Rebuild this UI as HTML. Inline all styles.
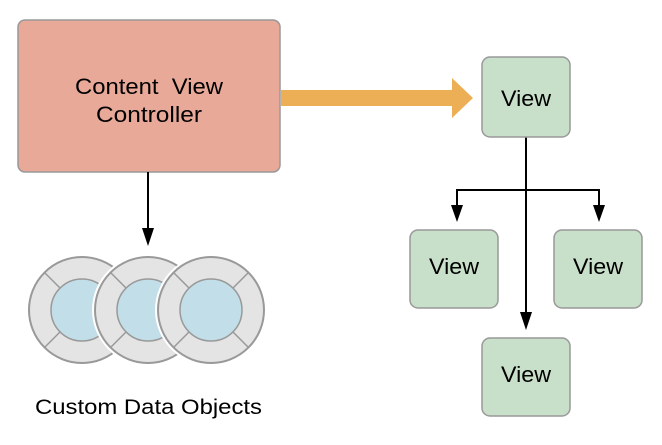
<!DOCTYPE html>
<html><head><style>body{margin:0;background:#fff}</style></head><body>
<svg width="662" height="440" viewBox="0 0 662 440" xmlns="http://www.w3.org/2000/svg" font-family="Liberation Sans, sans-serif">
<defs>
<g id="c">
<circle r="56" fill="#fff"/>
<circle r="53" fill="#e4e4e4" stroke="#999" stroke-width="2"/>
<g stroke="#999" stroke-width="1.5">
<line x1="22" y1="22" x2="37" y2="37"/><line x1="-22" y1="22" x2="-37" y2="37"/>
<line x1="22" y1="-22" x2="37" y2="-37"/><line x1="-22" y1="-22" x2="-37" y2="-37"/>
</g>
<circle r="31" fill="#c2dfe9" stroke="#999" stroke-width="1.5"/>
</g>
</defs>
<rect x="18" y="20" width="262" height="152" rx="7" fill="#e8a998" stroke="#999" stroke-width="1.5"/>
<text x="75" y="94" font-size="22" textLength="148" lengthAdjust="spacingAndGlyphs">Content&#160;&#160;View</text>
<text x="96" y="122" font-size="22" textLength="106" lengthAdjust="spacingAndGlyphs">Controller</text>
<path d="M281,90 H452 V78 L473,98 L452,118 V106 H281 Z" fill="#ecaf55"/>
<g stroke="#000" stroke-width="2" fill="none">
<line x1="148" y1="172" x2="148" y2="232"/>
<line x1="526" y1="137" x2="526" y2="316"/>
<polyline points="457,210 457,190 599,190 599,210"/>
</g>
<path d="M142,228 L154,228 L148,246 Z M451,205 L463,205 L457,222 Z M593,205 L605,205 L599,222 Z M520,312 L532,312 L526,330 Z" fill="#000"/>
<use href="#c" x="82" y="310"/>
<use href="#c" x="148" y="310"/>
<use href="#c" x="211" y="310"/>
<text x="35" y="414" font-size="21" textLength="227" lengthAdjust="spacingAndGlyphs">Custom Data Objects</text>
<g fill="#c8dfc9" stroke="#999" stroke-width="1.5">
<rect x="482" y="57" width="88" height="80" rx="8"/>
<rect x="410" y="230" width="88" height="78" rx="8"/>
<rect x="554" y="230" width="88" height="78" rx="8"/>
<rect x="482" y="338" width="88" height="78" rx="8"/>
</g>
<g font-size="22" lengthAdjust="spacingAndGlyphs">
<text x="501" y="106" textLength="50" lengthAdjust="spacingAndGlyphs">View</text>
<text x="429" y="274" textLength="50" lengthAdjust="spacingAndGlyphs">View</text>
<text x="573" y="274" textLength="50" lengthAdjust="spacingAndGlyphs">View</text>
<text x="501" y="382" textLength="50" lengthAdjust="spacingAndGlyphs">View</text>
</g>
</svg>
</body></html>
